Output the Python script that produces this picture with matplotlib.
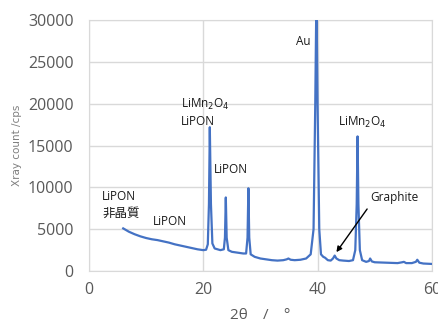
import matplotlib.pyplot as plt

# XRD pattern (2theta in degrees, counts in cps)
two_theta = [6, 7, 8, 9, 10, 11, 12, 13, 14, 15, 16, 17, 18, 19, 20, 20.5,
             20.8, 21.0, 21.15, 21.35, 21.6, 22, 23, 23.6, 23.8, 23.95, 24.1,
             24.4, 25, 26, 27, 27.5, 27.75, 27.9, 28.05, 28.3, 29, 30, 31, 32,
             33, 34, 34.6, 34.9, 35.3, 36, 37, 38, 38.8, 39.3, 39.6, 39.8,
             40.0, 40.3, 40.6, 41.0, 41.3, 41.8, 42.3, 42.7, 43.0, 43.3, 43.8,
             44.5, 45.5, 46.2, 46.6, 46.85, 47.0, 47.15, 47.4, 47.8, 48.5,
             49.0, 49.2, 49.5, 50, 52, 54, 54.8, 55.1, 55.5, 56.5, 57.2, 57.45,
             57.8, 58.5, 60]
counts = [5100, 4700, 4400, 4150, 3950, 3800, 3700, 3550, 3400, 3200, 3050,
          2900, 2750, 2600, 2500, 2550, 3200, 8000, 17200, 8000, 3300, 2700,
          2500, 2600, 4000, 8800, 4000, 2500, 2300, 2200, 2100, 2100, 4000,
          9900, 4000, 2000, 1700, 1500, 1400, 1300, 1250, 1300, 1400, 1500,
          1350, 1300, 1350, 1500, 2000, 5000, 20000, 33000, 20000, 5000, 2000,
          1700, 1600, 1300, 1250, 1500, 1850, 1500, 1300, 1250, 1200, 1300,
          2500, 8000, 16100, 8000, 2500, 1300, 1100, 1200, 1500, 1150, 1050,
          1000, 950, 1050, 1100, 950, 950, 1100, 1350, 1000, 900, 850]

x_ticks = [0, 20, 40, 60]
y_ticks = [0, 5000, 10000, 15000, 20000, 25000, 30000]

# peak labels: text, x, y
labels = [
    ('Au', 36.3, 27500),
    ('LiMn$_2$O$_4$', 16.1, 19900),
    ('LiPON', 16.1, 17900),
    ('LiPON', 21.8, 12150),
    ('LiMn$_2$O$_4$', 43.5, 17750),
    ('LiPON', 2.3, 8900),
    ('非晶質', 2.3, 6900),
    ('LiPON', 11.2, 5950),
]

fams = ['Open Sans', 'Noto Sans CJK JP', 'DejaVu Sans']
plt.rcParams['font.family'] = fams

grid_col = '#d9d9d9'
tick_col = '#595959'

fig = plt.figure(figsize=(4.38, 3.25), dpi=100)
ax = fig.add_axes([0.203, 0.166, 0.783, 0.772])

ax.plot(two_theta, counts, color='#4472c4', linewidth=1.6, zorder=3)

ax.set_xlim(0, 60)
ax.set_ylim(0, 30000)
ax.set_xticks(x_ticks)
ax.set_yticks(y_ticks)
ax.grid(True, color=grid_col, linewidth=1)
ax.set_axisbelow(True)
ax.tick_params(length=0, labelsize=11.5, labelcolor=tick_col)
ax.tick_params(axis='x', pad=8)
ax.tick_params(axis='y', pad=11)
for s in ax.spines.values():
    s.set_color(grid_col)

for txt, x, y in labels:
    size = 9 if txt == '非晶質' else 8.5
    ax.text(x, y, txt, fontsize=size, va='center', ha='left', color='#1a1a1a',
            family=fams)

ax.annotate('Graphite', xy=(43.3, 2260), xytext=(49.3, 8800), fontsize=8.5,
            va='center', ha='left', color='#1a1a1a',
            arrowprops=dict(arrowstyle='-|>', color='black', lw=1,
                            shrinkA=2, shrinkB=0, mutation_scale=8,
                            relpos=(0, 0.0)))

ax.set_xlabel('2θ　/　°', fontsize=11, color=tick_col, labelpad=7,
              family=fams)
ax.set_ylabel('Xray count /cps', fontsize=7.5, color='#7f7f7f', labelpad=4,
              family=['Liberation Sans Narrow', 'DejaVu Sans'])

fig.savefig('out.png', dpi=100)
